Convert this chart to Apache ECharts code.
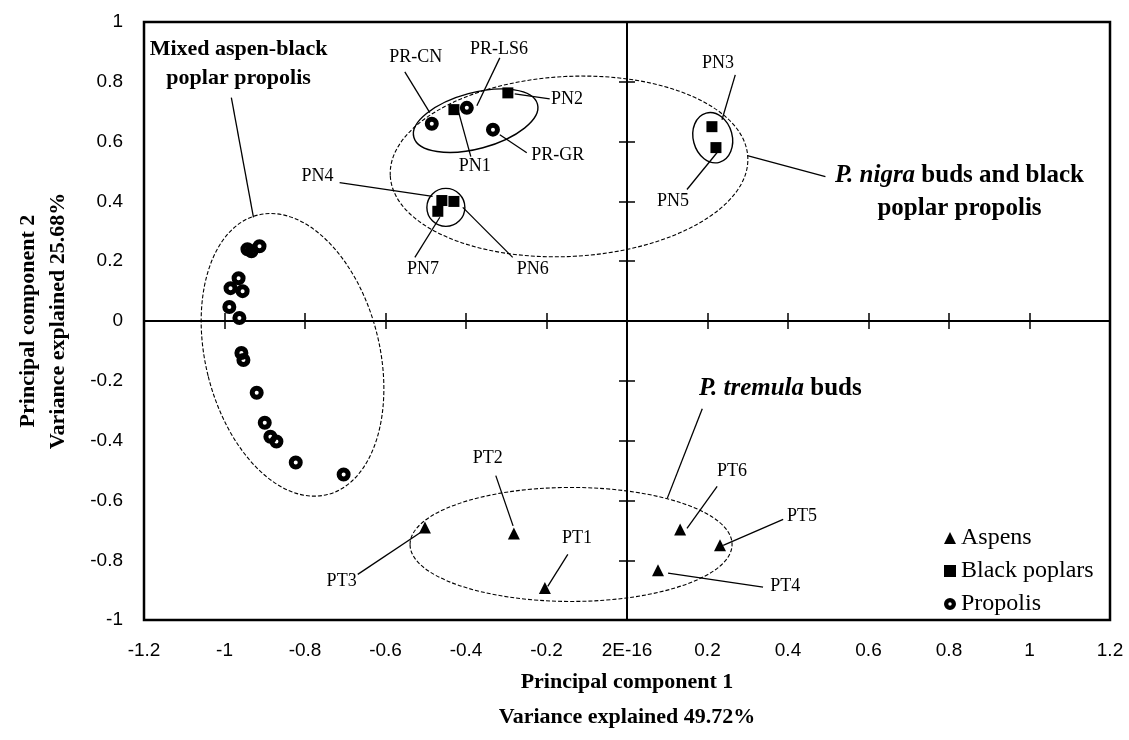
<!DOCTYPE html>
<html><head><meta charset="utf-8">
<script src="https://cdn.jsdelivr.net/npm/echarts@6/dist/echarts.min.js"></script>
<style>html,body{margin:0;padding:0;background:#fff}#c{width:1129px;height:740px}</style>
</head><body><div id="c"></div>
<script>
// ---------- data ----------
const xTickLabels = ['-1.2','-1','-0.8','-0.6','-0.4','-0.2','2E-16','0.2','0.4','0.6','0.8','1','1.2'];
const yTickLabels = ['-1','-0.8','-0.6','-0.4','-0.2','0','0.2','0.4','0.6','0.8','1'];

const aspenNames = ['PT1','PT2','PT3','PT4','PT5','PT6'];
const aspenPC1   = [-0.204,-0.281,-0.502, 0.077, 0.231, 0.132];
const aspenPC2   = [-0.893,-0.710,-0.690,-0.833,-0.750,-0.697];

const poplarNames = ['PN1','PN2','PN3','PN4','PN5','PN6','PN7'];
const poplarPC1   = [-0.430,-0.296, 0.211,-0.460, 0.221,-0.430,-0.470];
const poplarPC2   = [ 0.707, 0.763, 0.650, 0.403, 0.580, 0.400, 0.367];

const propolisNames = ['PR-CN','PR-LS6','PR-GR','','','','','','','','','','','','','','','',''];
const propolisPC1 = [-0.485,-0.398,-0.333,-0.943,-0.933,-0.913,-0.965,-0.985,-0.955,-0.988,-0.963,-0.958,-0.953,-0.920,-0.900,-0.886,-0.871,-0.823,-0.704];
const propolisPC2 = [ 0.660, 0.713, 0.640, 0.240, 0.233, 0.250, 0.143, 0.110, 0.100, 0.047, 0.010,-0.107,-0.130,-0.240,-0.340,-0.387,-0.403,-0.473,-0.513];

// ---------- annotations (data coordinates) ----------
const ellipses = [
  {c:[-0.831,-0.113], rx:87,  ry:144, rot:14, dash:true},
  {c:[-0.144, 0.517], rx:179, ry:90,  rot:3,  dash:true},
  {c:[-0.376, 0.670], rx:64,  ry:28,  rot:15, dash:false},
  {c:[-0.450, 0.380], rx:19,  ry:19,  rot:0,  dash:false},
  {c:[ 0.213, 0.613], rx:19.5,ry:25.5,rot:15, dash:false},
  {c:[-0.139,-0.747], rx:161, ry:57,  rot:0,  dash:true}
];
const annotations = [
  {t:'PR-CN',  at:[-0.525, 0.883], l:[[-0.552, 0.833],[-0.490, 0.697]]},
  {t:'PR-LS6', at:[-0.318, 0.910], l:[[-0.316, 0.880],[-0.373, 0.720]]},
  {t:'PN2',    at:[-0.149, 0.743], l:[[-0.279, 0.760],[-0.192, 0.743]]},
  {t:'PR-GR',  at:[-0.172, 0.553], l:[[-0.316, 0.623],[-0.249, 0.563]]},
  {t:'PN1',    at:[-0.378, 0.517], l:[[-0.418, 0.697],[-0.388, 0.550]]},
  {t:'PN4',    at:[-0.769, 0.483], l:[[-0.714, 0.463],[-0.483, 0.417]]},
  {t:'PN7',    at:[-0.507, 0.173], l:[[-0.527, 0.213],[-0.465, 0.347]]},
  {t:'PN6',    at:[-0.234, 0.173], l:[[-0.284, 0.213],[-0.408, 0.380]]},
  {t:'PN3',    at:[ 0.226, 0.863], l:[[ 0.269, 0.823],[ 0.236, 0.673]]},
  {t:'PN5',    at:[ 0.114, 0.400], l:[[ 0.149, 0.440],[ 0.226, 0.567]]},
  {t:'PT2',    at:[-0.346,-0.460], l:[[-0.326,-0.517],[-0.283,-0.685]]},
  {t:'PT1',    at:[-0.124,-0.727], l:[[-0.147,-0.780],[-0.197,-0.887]]},
  {t:'PT3',    at:[-0.709,-0.870], l:[[-0.669,-0.847],[-0.502,-0.697]]},
  {t:'PT6',    at:[ 0.261,-0.503], l:[[ 0.224,-0.553],[ 0.149,-0.693]]},
  {t:'PT5',    at:[ 0.435,-0.653], l:[[ 0.388,-0.663],[ 0.239,-0.750]]},
  {t:'PT4',    at:[ 0.393,-0.887], l:[[ 0.338,-0.890],[ 0.102,-0.843]]},
  {t:'Mixed aspen-black\npoplar propolis', g:true, fs:22, at:[-0.965, 0.860], l:[[-0.983, 0.747],[-0.928, 0.347]]},
  {t:'{i|P. nigra} buds and black\npoplar propolis', g:true, fs:25, at:[0.826, 0.433], l:[[0.493, 0.483],[0.299, 0.553]]},
  {t:'{i|P. tremula} buds', g:true, fs:25, at:[0.381,-0.227], l:[[0.187,-0.293],[0.100,-0.593]]}
];

// ---------- chart ----------
const SERIF = 'Liberation Serif';
const SANS = 'Liberation Sans';
const RING = 'path://M0,-7A7,7 0 1,1 0,7A7,7 0 1,1 0,-7ZM0,-2A2,2 0 1,0 0,2A2,2 0 1,0 0,-2Z';

function zip(xs, ys, names) { return xs.map((x, i) => ({value:[x, ys[i]], name:names[i]})); }
function xFmt(v) { return xTickLabels[Math.round((v + 1.2) / 0.2)]; }
function yFmt(v) { return yTickLabels[Math.round((v + 1) / 0.2)]; }

const chart = echarts.init(document.getElementById('c'), null, {renderer:'canvas'});
const axisBlack = {color:'#000', width:2};
function xAx(extra) {
  return Object.assign({type:'value', min:-1.2, max:1.2, interval:0.2, position:'bottom',
    splitLine:{show:false}, axisLabel:{show:false}}, extra);
}
function yAx(extra) {
  return Object.assign({type:'value', min:-1, max:1, interval:0.2, position:'left',
    splitLine:{show:false}, axisLabel:{show:false}}, extra);
}

chart.setOption({
  animation:false,
  backgroundColor:'#fff',
  grid:{left:144, right:19, top:22, bottom:118, show:true, borderColor:'#000', borderWidth:2.5, backgroundColor:'transparent'},
  xAxis:[
    xAx({axisLine:{show:false, onZero:false}, axisTick:{show:false},
      axisLabel:{show:true, margin:21, color:'#000', fontFamily:SANS, fontSize:19, formatter:xFmt, showMinLabel:true, showMaxLabel:true},
      name:'Principal component 1\nVariance explained 49.72%', nameLocation:'middle', nameGap:42,
      nameTextStyle:{fontFamily:SERIF, fontWeight:'bold', fontSize:22, color:'#000', lineHeight:35}}),
    xAx({axisLine:{show:true, onZero:true, onZeroAxisIndex:0, lineStyle:axisBlack}, axisTick:{show:true, length:8, lineStyle:{color:'#000', width:1.5}}}),
    xAx({axisLine:{show:true, onZero:true, onZeroAxisIndex:0, lineStyle:axisBlack}, axisTick:{show:true, inside:true, length:8, lineStyle:{color:'#000', width:1.5}}})
  ],
  yAxis:[
    yAx({axisLine:{show:false, onZero:false}, axisTick:{show:false},
      axisLabel:{show:true, margin:21, color:'#000', fontFamily:SANS, fontSize:19, formatter:yFmt, showMinLabel:true, showMaxLabel:true},
      name:'Principal component 2\nVariance explained 25.68%', nameLocation:'middle', nameGap:71,
      nameTextStyle:{fontFamily:SERIF, fontWeight:'bold', fontSize:22, color:'#000', lineHeight:30}}),
    yAx({axisLine:{show:true, onZero:true, onZeroAxisIndex:0, lineStyle:axisBlack}, axisTick:{show:true, length:8, lineStyle:{color:'#000', width:1.5}}}),
    yAx({axisLine:{show:true, onZero:true, onZeroAxisIndex:0, lineStyle:axisBlack}, axisTick:{show:true, inside:true, length:8, lineStyle:{color:'#000', width:1.5}}})
  ],
  legend:{
    orient:'vertical', left:939, top:521, itemWidth:12, itemHeight:12, itemGap:9,
    textStyle:{fontFamily:SERIF, fontSize:24, color:'#000', lineHeight:24},
    data:[
      {name:'Aspens', icon:'triangle'},
      {name:'Black poplars', icon:'rect'},
      {name:'Propolis', icon:RING, itemStyle:{color:'#000', opacity:1}}
    ]
  },
  series:[
    {type:'custom', name:'ellipses', silent:true, z:1, xAxisIndex:0, yAxisIndex:0,
      data: ellipses.map(e => e.c),
      renderItem:function(params, api){
        const e = ellipses[params.dataIndex];
        const p = api.coord(e.c);
        return {type:'ellipse', x:p[0], y:p[1], rotation:e.rot*Math.PI/180,
          shape:{cx:0, cy:0, rx:e.rx, ry:e.ry},
          style:{fill:'none', stroke:'#000', lineWidth:e.dash ? 1.1 : 1.4, lineDash:e.dash ? [4,2] : null}};
      }},
    {type:'custom', name:'annotations', silent:true, z:2, xAxisIndex:0, yAxisIndex:0,
      data: annotations.map(a => a.at),
      renderItem:function(params, api){
        const a = annotations[params.dataIndex];
        const p = api.coord(a.at);
        const p1 = api.coord(a.l[0]), p2 = api.coord(a.l[1]);
        const fs = a.g ? a.fs : 18;
        const lh = a.g ? Math.round(fs * 1.3) : 20;
        return {type:'group', children:[
          {type:'line', shape:{x1:p1[0], y1:p1[1], x2:p2[0], y2:p2[1]}, style:{stroke:'#000', lineWidth:1.3}},
          {type:'text', x:p[0], y:p[1], style:{
            text:a.t, fill:'#000', align:'center', verticalAlign:'middle',
            fontFamily:SERIF, fontSize:fs, fontWeight:a.g ? 'bold' : 'normal',
            lineHeight:lh,
            rich:{i:{fontFamily:SERIF, fontSize:fs, fontWeight:'bold', fontStyle:'italic', lineHeight:lh}}
          }}
        ]};
      }},
    {type:'scatter', name:'Aspens', z:3, symbol:'triangle', symbolSize:12,
      itemStyle:{color:'#000', opacity:1}, data: zip(aspenPC1, aspenPC2, aspenNames)},
    {type:'scatter', name:'Black poplars', z:3, symbol:'rect', symbolSize:11,
      itemStyle:{color:'#000', opacity:1}, data: zip(poplarPC1, poplarPC2, poplarNames)},
    {type:'scatter', name:'Propolis', z:3, symbol:RING, symbolSize:14,
      itemStyle:{color:'#000', opacity:1}, data: zip(propolisPC1, propolisPC2, propolisNames)}
  ]
});
</script></body></html>
